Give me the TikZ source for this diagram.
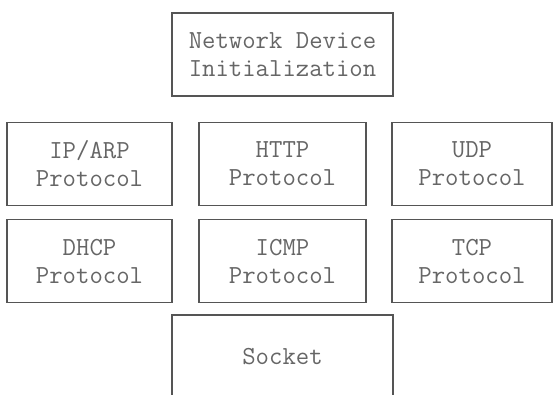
\documentclass[tikz,border=0pt]{standalone}
\usepackage{fontspec}
\usepackage{tikz}
\usetikzlibrary{positioning}

\definecolor{edgegray}{HTML}{555555}
\definecolor{textgray}{HTML}{666666}

\tikzset{
    blockbox/.style={draw=edgegray, line width=1.3pt, fill=white,
        minimum height=83pt, inner sep=0pt, align=center,
        text=textgray, font=\ttfamily\fontsize{26}{28}\selectfont}
}

\begin{document}
\begin{tikzpicture}[x=1pt, y=1pt]
    \useasboundingbox (0,0) rectangle (553,394);

    % Top
    \node[blockbox, minimum width=221pt] (init) at (282.5,339.5) {Network Device\\Initialization};

    % Row 1
    \node[blockbox, minimum width=165pt] (iparp) at (89.5,230) {IP/ARP\\Protocol};
    \node[blockbox, minimum width=167pt] (http) at (282.5,230) {HTTP\\Protocol};
    \node[blockbox, minimum width=160pt] (udp) at (472,230) {UDP\\Protocol};

    % Row 2
    \node[blockbox, minimum width=165pt] (dhcp) at (89.5,133) {DHCP\\Protocol};
    \node[blockbox, minimum width=167pt] (icmp) at (282.5,133) {ICMP\\Protocol};
    \node[blockbox, minimum width=160pt] (tcp) at (472,133) {TCP\\Protocol};

    % Bottom
    \node[blockbox, minimum width=221pt] (socket) at (282.5,37.5) {Socket};

\end{tikzpicture}
\end{document}
